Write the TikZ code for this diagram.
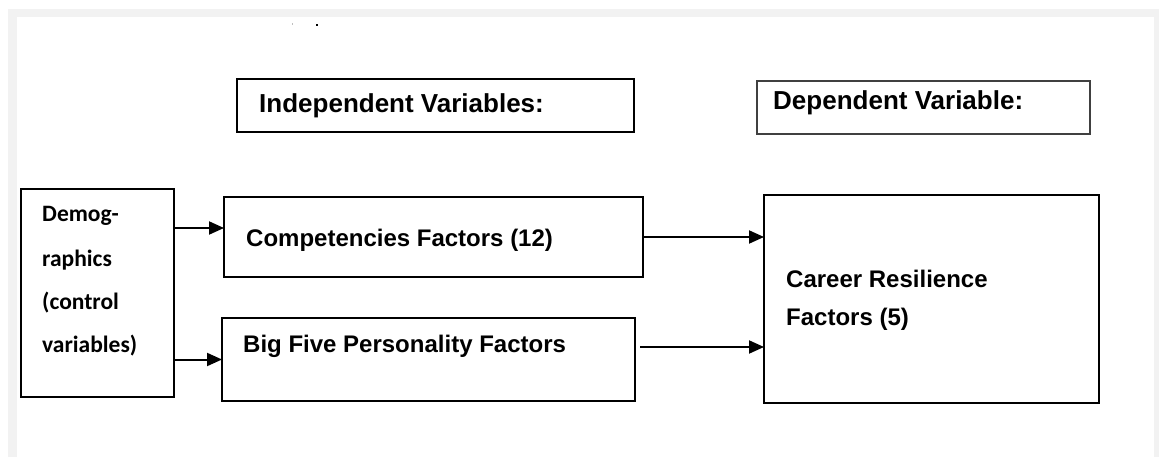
\documentclass[tikz,border=0pt]{standalone}
\usepackage{fontspec}
\setmainfont{Liberation Sans}
\newfontfamily\calibri{Carlito}
\usetikzlibrary{arrows.meta}
\begin{document}
\begin{tikzpicture}[x=1pt,y=-1pt,
  box/.style={draw=black, line width=2pt, rectangle, anchor=north west,
    inner sep=0pt, outer sep=0pt},
  headbox/.style={box, line width=1.6pt},
  subbox/.style={box, draw=black!75, line width=1.4pt},
  headtxt/.style={anchor=base west, inner sep=0pt, font=\bfseries\fontsize{26}{30}\selectfont},
  boxtxt/.style={anchor=base west, inner sep=0pt, font=\bfseries\fontsize{24}{28}\selectfont},
  demtxt/.style={anchor=base west, inner sep=0pt, font=\calibri\bfseries\fontsize{23.5}{28}\selectfont},
  arr/.style={line width=2pt, -{Triangle[length=15pt,width=13pt]}}]
\useasboundingbox (0,0) rectangle (1159,457);
% page frame
\fill[black!5] (8,9) rectangle (1159,457);
\fill[white] (17,17) rectangle (1154,457);
% stray marks at the top
\fill[black!25] (291.5,23.5) rectangle (292.5,25);
\fill[black] (316,24) rectangle (318,26);

% headings
\node[headbox, minimum width=397pt, minimum height=53pt] (ind) at (237,79) {};
\node[headtxt] (indt) at (259,113) {Independent Variables:};
\node[subbox, minimum width=333pt, minimum height=53pt] (dep) at (757,81) {};
\node[headtxt] (dept) at (773,110) {Dependent Variable:};

% control variables
\node[box, minimum width=153pt, minimum height=208pt] (dem) at (21,189) {};
\node[demtxt] (dem1) at (42,222) {Demog-};
\node[demtxt] (dem2) at (42,266) {raphics};
\node[demtxt] (dem3) at (42,309) {(control};
\node[demtxt] (dem4) at (42,352) {variables)};

% independent variables
\node[box, minimum width=419pt, minimum height=80pt] (comp) at (224,197) {};
\node[boxtxt] (compt) at (246,247) {Competencies Factors (12)};
\node[box, minimum width=413pt, minimum height=83pt] (bf) at (222,318) {};
\node[boxtxt] (bft) at (243,352) {Big Five Personality Factors};

% dependent variable
\node[box, minimum width=335pt, minimum height=208pt] (car) at (764,195) {};
\node[boxtxt] (car1) at (786,287) {Career Resilience};
\node[boxtxt] (car2) at (786,325) {Factors (5)};

% connectors
\coordinate (r1) at (0,228);
\coordinate (r2) at (0,347);
\coordinate (g2) at (640,0);
\draw[arr] (dem.east |- r1) -- (comp.west |- r1);
\draw[arr] (dem.east |- bf.west) -- (bf.west);
\draw[arr] (comp.east) -- (car.west |- comp.east);
\draw[arr] (g2 |- r2) -- (car.west |- r2);
\end{tikzpicture}
\end{document}
